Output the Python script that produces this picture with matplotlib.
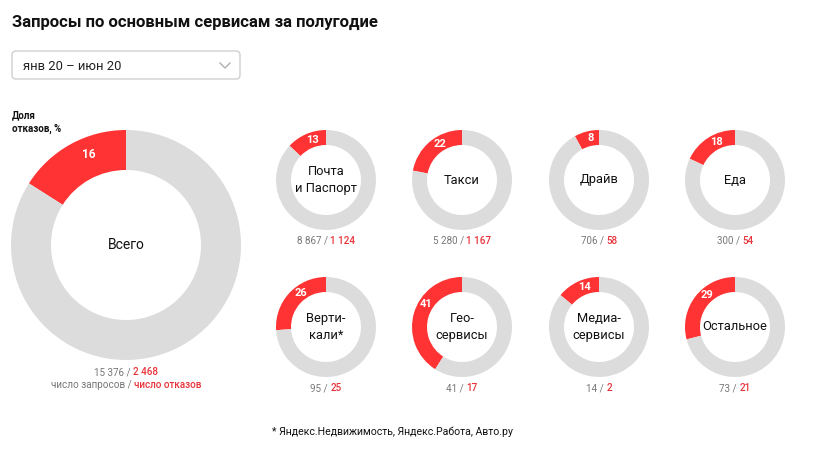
import matplotlib
matplotlib.use("Agg")
import matplotlib.pyplot as plt
import numpy as np
from matplotlib.patches import FancyBboxPatch

plt.rcParams["font.family"] = ["Roboto", "DejaVu Sans"]

# data
title = "Запросы по основным сервисам за полугодие"
period = "янв 20 – июн 20"
total_name = "Всего"
total_requests = "15 376"
total_refusals = "2 468"
total_share = 16

services = ["Почта\nи Паспорт", "Такси", "Драйв", "Еда",
            "Верти-\nкали*", "Гео-\nсервисы", "Медиа-\nсервисы", "Остальное"]
requests = ["8 867", "5 280", "706", "300", "95", "41", "14", "73"]
refusals = ["1 124", "1 167", "58", "54", "25", "17", "2", "21"]
shares = [13, 22, 8, 18, 26, 41, 14, 29]

RED = "#ff3333"
GREY = "#dcdcdc"
TXT_GREY = "#777777"
TXT_RED = "#e8333a"

W, H = 827, 450
fig = plt.figure(figsize=(W / 100, H / 100), dpi=100)
ax = fig.add_axes([0, 0, 1, 1])


def Y(py):
    return H - py


def donut(cx, cy, r, w, share, name, fs_name, fs_pct, r_shift=0):
    wedges, _ = ax.pie([share, 100 - share], colors=[RED, GREY], startangle=90,
                       counterclock=True, radius=r, center=(cx, Y(cy)),
                       wedgeprops=dict(width=w, linewidth=0), frame=True)
    wd = wedges[0]
    # label sits a bit closer to the wedge start than its middle
    ang = np.deg2rad(wd.theta1 + 0.78 * (wd.theta2 - wd.theta1) / 2)
    rm = r - w / 2 + r_shift
    ax.text(cx + rm * np.cos(ang), Y(cy) + rm * np.sin(ang), str(share),
            color="white", fontsize=fs_pct, fontweight="bold",
            ha="center", va="center")
    ax.text(cx, Y(cy), name, fontsize=fs_name, ha="center", va="center",
            color="#111111", linespacing=1.45)


renderer = fig.canvas.get_renderer()


def two_color(cx, py, left, right, fs, bold_right=True):
    t1 = ax.text(0, 0, left, fontsize=fs, color=TXT_GREY)
    t2 = ax.text(0, 0, right, fontsize=fs, color=TXT_RED,
                 fontweight="medium" if bold_right else "normal")
    w1 = t1.get_window_extent(renderer).width
    w2 = t2.get_window_extent(renderer).width
    x0 = cx - (w1 + w2) / 2
    t1.set_position((x0, Y(py)))
    t1.set_va("center")
    t2.set_position((x0 + w1, Y(py)))
    t2.set_va("center")


ax.text(12, Y(22), title, fontsize=12, fontweight="bold", va="center", color="#111111")

box = FancyBboxPatch((12, Y(79)), 228, 28, boxstyle="round,pad=0,rounding_size=4",
                     facecolor="white", edgecolor="#d0d0d0", linewidth=1)
ax.add_patch(box)
ax.text(23, Y(66), period, fontsize=9.4, va="center", color="#222222")
ax.plot([220, 225, 230], [Y(63), Y(68), Y(63)], color="#b0b0b0", linewidth=1)

ax.text(12, Y(122), "Доля\nотказов, %", fontsize=7, fontweight="bold",
        va="center", linespacing=1.5, color="#111111")

# big donut
donut(126, 245, 115, 40, total_share, total_name, 10, 8.5, r_shift=3)
two_color(126, 372, total_requests + " / ", total_refusals, 7.1)
two_color(126, 385, "число запросов / ", "число отказов", 7.1)

xs = [326, 462, 599, 735]
ys = [180, 327]
for i, name in enumerate(services):
    cx = xs[i % 4]
    cy = ys[i // 4]
    donut(cx, cy, 50, 15, shares[i], name, 9.3, 8)
    two_color(cx, cy + 61, requests[i] + " / ", refusals[i], 7.1)

ax.text(392, Y(432), "* Яндекс.Недвижимость, Яндекс.Работа, Авто.ру",
        fontsize=7.6, ha="center", va="center", color="#111111")

ax.set_xlim(0, W)
ax.set_ylim(0, H)
ax.set_aspect("equal")
ax.axis("off")

fig.savefig("out.png", dpi=100, facecolor="white")
